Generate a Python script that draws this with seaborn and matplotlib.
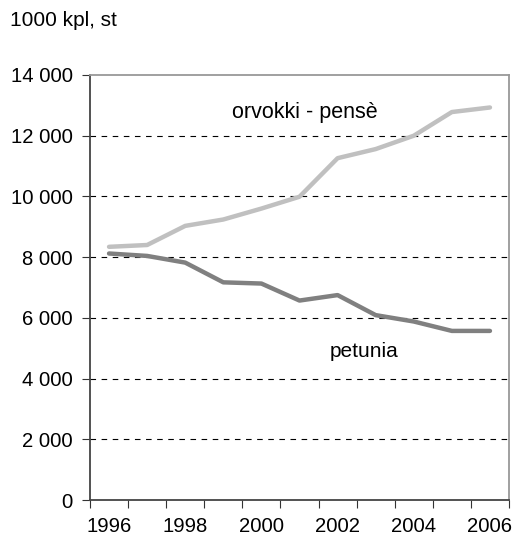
import matplotlib
matplotlib.use("Agg")
import matplotlib.pyplot as plt
import matplotlib.ticker as mticker
import seaborn as sns
import pandas as pd

years = [1996, 1997, 1998, 1999, 2000, 2001, 2002, 2003, 2004, 2005, 2006]
orvokki = [8340, 8400, 9030, 9240, 9600, 9990, 11260, 11560, 12000, 12780, 12930]
petunia = [8120, 8040, 7820, 7170, 7130, 6570, 6750, 6090, 5880, 5570, 5570]
series_names = ["orvokki - pensè", "petunia"]
y_ticks = [0, 2000, 4000, 6000, 8000, 10000, 12000, 14000]
x_labels = [1996, 1998, 2000, 2002, 2004, 2006]

df = pd.DataFrame({
    "idx": list(range(len(years))) * 2,
    "value": orvokki + petunia,
    "series": [series_names[0]] * len(years) + [series_names[1]] * len(years),
})

sns.set_theme(style="white")
plt.rcParams["font.family"] = ["Liberation Sans", "DejaVu Sans"]

fig = plt.figure(figsize=(5.14, 5.39), dpi=100)
ax = fig.add_axes([90 / 514, 1 - 500 / 539, 419 / 514, 425 / 539])

sns.lineplot(data=df, x="idx", y="value", hue="series",
             palette={series_names[0]: "#c0c0c0", series_names[1]: "#808080"},
             linewidth=3.2, legend=False, ax=ax, solid_capstyle="round")

ax.set_xlim(-0.5, len(years) - 0.5)
ax.set_ylim(0, 14000)

ax.set_yticks(y_ticks)
ax.yaxis.set_major_formatter(mticker.FuncFormatter(lambda v, p: f"{int(v):,}".replace(",", " ")))
for t in y_ticks[1:-1]:
    ax.axhline(t, color="black", linestyle=(0, (5, 5)), linewidth=0.8, zorder=0)

ax.set_xticks([i - 0.5 for i in range(len(years) + 1)])
ax.set_xticklabels([])
ax.set_xticks([years.index(y) for y in x_labels], minor=True)
ax.set_xticklabels([str(y) for y in x_labels], minor=True)

ax.tick_params(axis="x", which="major", direction="out", length=5.5, width=0.8,
               color="#333333", bottom=True)
ax.tick_params(axis="x", which="minor", length=0, pad=12.5, labelsize=14.6, labelcolor="black")
ax.tick_params(axis="y", direction="out", length=5.5, width=0.8, color="#333333",
               left=True, pad=7, labelsize=14.6, labelcolor="black")

ax.set_xlabel("")
ax.set_ylabel("")
ax.grid(False)

for side in ["left", "bottom"]:
    ax.spines[side].set_color("#444444")
    ax.spines[side].set_linewidth(1.3)
for side in ["top", "right"]:
    ax.spines[side].set_color("#999999")
    ax.spines[side].set_linewidth(1.3)

ax.text(5.14, 12590, series_names[0], ha="center", va="baseline", fontsize=15.5, color="black")
ax.text(6.7, 4720, series_names[1], ha="center", va="baseline", fontsize=15, color="black")

fig.text(10 / 514, 1 - 21 / 539, "1000 kpl, st", ha="left", va="center", fontsize=15, color="black")

fig.savefig("out.png", dpi=100)
